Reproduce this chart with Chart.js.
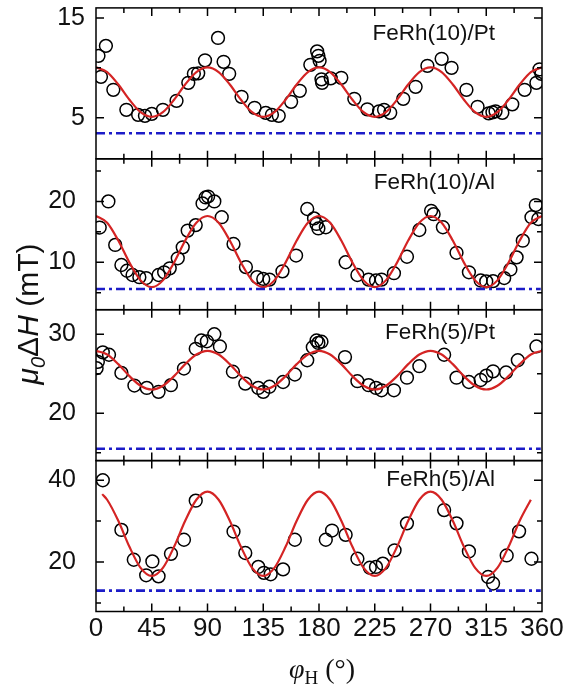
<!DOCTYPE html>
<html lang="en">
<head>
<meta charset="UTF-8">
<title>FeRh linewidth vs field angle</title>
<script src="https://cdn.jsdelivr.net/npm/chart.js"></script>
<style>
  html, body { margin: 0; padding: 0; background: #fff; }
  #wrap { position: relative; width: 567px; height: 690px; }
</style>
</head>
<body>
<div id="wrap"><canvas id="chart" width="567" height="690"></canvas></div>
<script>
// ---- data ----
// FeRh(10)/Pt
const phi1 = [2, 4, 8, 14, 24.5, 34, 39.5, 45, 54, 65, 74.5, 79, 82.5, 88, 98.5, 103, 107.5, 117.5, 128, 137, 142, 147.5, 157.5, 164.5, 173, 178.5, 179.5, 180.5, 182, 182.5, 189.5, 198, 208.5, 219, 228.5, 232.5, 237.5, 248, 258, 267.5, 279, 287, 299, 308, 317, 320, 322.5, 328, 336, 346, 355.5, 358, 359.5];
const dh1 = [11.2, 9.1, 12.2, 7.8, 5.8, 5.3, 5.2, 5.4, 5.8, 6.7, 8.5, 9.4, 9.45, 10.75, 13.0, 10.6, 9.4, 7.1, 6.0, 5.5, 5.3, 5.2, 6.6, 7.7, 10.3, 11.65, 11.2, 10.7, 8.85, 8.5, 8.95, 9.0, 6.9, 5.85, 5.65, 5.8, 5.5, 6.9, 8.1, 10.2, 10.9, 10.0, 7.8, 6.1, 5.45, 5.55, 5.65, 5.5, 6.35, 7.8, 8.5, 9.85, 9.4];
// FeRh(10)/Al
const phi2 = [3, 10, 15.5, 20.5, 25, 29.5, 35, 40.5, 50.5, 55, 59.5, 66, 70, 74, 80.5, 86, 88.5, 90.5, 95.5, 101.5, 111, 121, 130, 135, 140, 150.5, 161.5, 170.5, 176, 178, 179.5, 185.5, 201.5, 211, 220, 226, 230.5, 240.5, 251, 261, 270.5, 272.5, 280, 291, 301, 310.5, 315, 320.5, 329.5, 334.5, 339.5, 344.5, 351.5, 355, 357];
const dh2 = [15.7, 20.0, 12.85, 9.55, 8.6, 7.9, 7.55, 7.4, 7.9, 8.35, 9.0, 10.65, 12.45, 15.2, 16.1, 19.65, 20.65, 20.8, 20.0, 17.4, 13.0, 9.2, 7.55, 7.25, 7.15, 8.5, 11.1, 18.75, 17.2, 16.3, 15.55, 15.75, 10.0, 7.9, 7.15, 7.0, 7.15, 8.2, 10.9, 15.3, 18.45, 17.9, 15.75, 11.55, 8.35, 7.0, 6.85, 6.9, 7.4, 8.8, 10.8, 13.55, 17.4, 19.4, 17.1];
// FeRh(5)/Pt
const phi3 = [0.5, 1.5, 5.5, 10.5, 20.5, 31, 41, 50.5, 60.5, 71, 80.5, 85, 89.5, 95.5, 100, 110.5, 120.5, 131, 135, 140, 151, 160.5, 170.5, 175, 178, 179.5, 182, 201, 211, 220, 226, 230.5, 240.5, 251, 261, 281, 291, 301, 310.5, 315, 320.5, 331, 340.5, 355.5];
const dh3 = [25.7, 26.5, 27.7, 27.4, 25.1, 23.5, 23.2, 22.7, 23.55, 25.65, 28.15, 29.2, 29.1, 30.0, 28.45, 25.25, 23.75, 23.2, 22.7, 23.35, 23.95, 24.9, 26.7, 28.35, 29.2, 28.9, 29.05, 27.1, 24.05, 23.55, 23.2, 22.9, 22.9, 24.5, 25.95, 27.4, 24.5, 23.95, 24.2, 24.75, 25.3, 25.15, 26.7, 28.45];
// FeRh(5)/Al
const phi4 = [5.5, 20.5, 30.5, 40.5, 45.5, 50.5, 60.5, 71, 80.5, 111, 120.5, 131, 135.5, 141, 151, 160.5, 185.5, 190.5, 201.5, 211, 221, 226, 231.5, 241, 251, 281, 291, 301, 316.5, 320.5, 331.5, 341.5, 351.5];
const dh4 = [40.0, 27.85, 20.55, 16.75, 20.15, 16.5, 22.0, 25.45, 35.0, 27.45, 22.2, 18.8, 17.35, 17.0, 18.2, 25.45, 25.45, 27.7, 26.65, 20.8, 18.6, 18.8, 19.6, 22.85, 29.45, 32.7, 29.45, 22.6, 16.35, 14.75, 21.6, 27.5, 20.8];

// fitted curves (red), read every 9 degrees
const fitPhi = [0, 9, 18, 27, 36, 45, 54, 63, 72, 81, 90, 99, 108, 117, 126, 135, 144, 153, 162, 171, 180, 189, 198, 207, 216, 225, 234, 243, 252, 261, 270, 279, 288, 297, 306, 315, 324, 333, 342, 351, 360];
const fit1 = [10.05, 9.58, 8.34, 6.81, 5.57, 5.1, 5.57, 6.81, 8.34, 9.58, 10.05, 9.58, 8.34, 6.81, 5.57, 5.1, 5.57, 6.81, 8.34, 9.58, 10.05, 9.58, 8.34, 6.81, 5.57, 5.1, 5.57, 6.81, 8.34, 9.58, 10.05, 9.58, 8.34, 6.81, 5.57, 5.1, 5.57, 6.81, 8.34, 9.58, 10.05];
const fit2 = [17.6, 16.48, 13.56, 9.94, 7.02, 5.9, 7.02, 9.94, 13.56, 16.48, 17.6, 16.48, 13.56, 9.94, 7.02, 5.9, 7.02, 9.94, 13.56, 16.48, 17.6, 16.48, 13.56, 9.94, 7.02, 5.9, 7.02, 9.94, 13.56, 16.48, 17.6, 16.48, 13.56, 9.94, 7.02, 5.9, 7.02, 9.94, 13.56, 16.48, 17.6];
const fit3 = [27.9, 27.43, 26.21, 24.69, 23.47, 23.0, 23.47, 24.69, 26.21, 27.43, 27.9, 27.43, 26.21, 24.69, 23.47, 23.0, 23.47, 24.69, 26.21, 27.43, 27.9, 27.43, 26.21, 24.69, 23.47, 23.0, 23.47, 24.69, 26.21, 27.43, 27.9, 27.43, 26.21, 24.69, 23.47, 23.0, 23.47, 24.69, 26.21, 27.43, 27.9];
const fitPhi4 = [5, 9, 18, 27, 36, 45, 54, 63, 72, 81, 90, 99, 108, 117, 126, 135, 144, 153, 162, 171, 180, 189, 198, 207, 216, 225, 234, 243, 252, 261, 270, 279, 288, 297, 306, 315, 324, 333, 342, 351];
const fit4 = [36.6, 35.23, 30.08, 23.72, 18.57, 16.6, 18.57, 23.72, 30.08, 35.23, 37.2, 35.23, 30.08, 23.72, 18.57, 16.6, 18.57, 23.72, 30.08, 35.23, 37.2, 35.23, 30.08, 23.72, 18.57, 16.6, 18.57, 23.72, 30.08, 35.23, 37.2, 35.23, 30.08, 23.72, 18.57, 16.6, 18.57, 23.72, 30.08, 35.23];

// blue dash-dot levels
const basePhi = [0, 359];
const baseLevel = [3.45, 5.6, 15.5, 13.0];

// axes
const xTicks = [0, 45, 90, 135, 180, 225, 270, 315, 360];
const panelNames = ['FeRh(10)/Pt', 'FeRh(10)/Al', 'FeRh(5)/Pt', 'FeRh(5)/Al'];
const yMin = [0.9, 2.2, 14.0, 7.9];
const yMax = [16.0, 27.0, 33.1, 44.8];
const yMajor = [[5, 15], [10, 20], [20, 30], [20, 40]];
const yMinor = [[10], [5, 15, 25], [15, 25], [10, 30]];

const panelIds = ['y1', 'y2', 'y3', 'y4'];
const labelDy = [26, 24, 23, 19];
const labelPad = [11, 20, 20, 20];

const pts = [[phi1, dh1], [phi2, dh2], [phi3, dh3], [phi4, dh4]];
const fits = [[fitPhi, fit1], [fitPhi, fit2], [fitPhi, fit3], [fitPhi4, fit4]];

const SANS = '"Liberation Sans", Arial, sans-serif';
const SERIF = '"Liberation Serif", "Times New Roman", serif';

function xy(xs, ys) {
  return xs.map((x, i) => ({ x: x, y: ys[i] }));
}

// build datasets
const datasets = [];
panelIds.forEach((id, i) => {
  datasets.push({
    label: 'base' + i,
    data: xy(basePhi, [baseLevel[i], baseLevel[i]]),
    yAxisID: id,
    borderColor: '#1c1cc8',
    borderWidth: 2.6,
    borderDash: [9, 4, 3, 4],
    pointRadius: 0,
    fill: false
  });
  datasets.push({
    label: 'fit' + i,
    data: xy(fits[i][0], fits[i][1]),
    yAxisID: id,
    borderColor: '#d42424',
    borderWidth: 2.2,
    pointRadius: 0,
    cubicInterpolationMode: 'monotone',
    fill: false
  });
  datasets.push({
    label: panelNames[i],
    data: xy(pts[i][0], pts[i][1]),
    yAxisID: id,
    showLine: false,
    pointRadius: 6.4,
    pointBorderWidth: 1.5,
    pointBorderColor: '#000',
    pointBackgroundColor: 'rgba(0,0,0,0)'
  });
});

// stacked y axes, one per panel (heavier weight goes on top)
const scales = {
  x: {
    type: 'linear',
    min: 0,
    max: 360,
    grid: { display: false, drawTicks: false },
    border: { display: false },
    afterBuildTicks: s => { s.ticks = xTicks.map(v => ({ value: v })); },
    afterFit: s => { s.height = 690 - 611.5; s.paddingLeft = 0; s.paddingRight = 0; },
    ticks: { font: { family: SANS, size: 26 }, color: '#111', padding: 2, maxRotation: 0 }
  }
};
panelIds.forEach((id, i) => {
  scales[id] = {
    type: 'linear',
    position: 'left',
    stack: 'panels',
    stackWeight: 1,
    weight: 4 - i,
    min: yMin[i],
    max: yMax[i],
    grid: { display: false, drawTicks: false },
    border: { display: false },
    afterBuildTicks: s => { s.ticks = yMajor[i].map(v => ({ value: v })); },
    afterFit: s => { s.width = 96; s.paddingTop = 0; s.paddingBottom = 0; },
    ticks: { font: { family: SANS, size: 25 }, color: '#111', padding: labelPad[i] }
  };
});

// draw text made of pieces (italic / subscript)
function drawPieces(ctx, pieces, cx, cy, size, family) {
  const fontOf = p => (p.italic ? 'italic ' : '') + Math.round(p.sub ? size * 0.68 : size) + 'px ' + family;
  let total = 0;
  pieces.forEach(p => { ctx.font = fontOf(p); p.w = ctx.measureText(p.t).width; total += p.w; });
  let x = cx - total / 2;
  ctx.textBaseline = 'middle';
  ctx.textAlign = 'left';
  pieces.forEach(p => {
    ctx.font = fontOf(p);
    ctx.fillText(p.t, x, cy + (p.sub ? size * 0.3 : 0));
    x += p.w;
  });
}

// panel frames, inward ticks, panel names and axis titles
const framePlugin = {
  id: 'frames',
  afterDraw(chart) {
    const ctx = chart.ctx;
    const xs = chart.scales.x;
    const L = chart.chartArea.left, R = chart.chartArea.right;
    ctx.save();
    ctx.strokeStyle = '#000';
    ctx.lineWidth = 1.5;
    panelIds.forEach((id, i) => {
      const ys = chart.scales[id];
      const T = ys.top, B = ys.bottom;
      ctx.strokeRect(L, T, R - L, B - T);
      ctx.beginPath();
      // x ticks at top and bottom of every panel
      for (let k = 0; k < xTicks.length - 1; k++) {
        const major = xs.getPixelForValue(xTicks[k]);
        const minor = xs.getPixelForValue((xTicks[k] + xTicks[k + 1]) / 2);
        if (k > 0) {
          ctx.moveTo(major, B); ctx.lineTo(major, B - 8);
          ctx.moveTo(major, T); ctx.lineTo(major, T + 8);
        }
        ctx.moveTo(minor, B); ctx.lineTo(minor, B - 5);
        ctx.moveTo(minor, T); ctx.lineTo(minor, T + 5);
      }
      // y ticks left and right
      yMajor[i].forEach(v => {
        const y = ys.getPixelForValue(v);
        ctx.moveTo(L, y); ctx.lineTo(L + 8, y);
        ctx.moveTo(R, y); ctx.lineTo(R - 8, y);
      });
      yMinor[i].forEach(v => {
        const y = ys.getPixelForValue(v);
        ctx.moveTo(L, y); ctx.lineTo(L + 5, y);
        ctx.moveTo(R, y); ctx.lineTo(R - 5, y);
      });
      ctx.stroke();

      // panel name
      ctx.fillStyle = '#111';
      ctx.font = '22.5px ' + SANS;
      ctx.textAlign = 'right';
      ctx.textBaseline = 'middle';
      ctx.fillText(panelNames[i], 495, T + labelDy[i]);
    });

    // y title, rotated
    ctx.fillStyle = '#111';
    ctx.save();
    ctx.translate(30, 314);
    ctx.rotate(-Math.PI / 2);
    drawPieces(ctx, [
      { t: 'μ', italic: true },
      { t: '0', italic: true, sub: true },
      { t: 'Δ' },
      { t: 'H', italic: true },
      { t: ' (mT)' }
    ], 0, 0, 30, SANS);
    ctx.restore();

    // x title
    drawPieces(ctx, [
      { t: 'φ', italic: true },
      { t: 'H', sub: true },
      { t: ' (°)' }
    ], (L + R) / 2 + 3, 671, 28, SERIF);
    ctx.restore();
  }
};

new Chart(document.getElementById('chart').getContext('2d'), {
  type: 'line',
  data: { datasets: datasets },
  options: {
    responsive: false,
    animation: false,
    devicePixelRatio: 1,
    parsing: true,
    layout: { padding: { top: 5, right: 25, left: 0, bottom: 0 } },
    plugins: { legend: { display: false }, tooltip: { enabled: false } },
    scales: scales
  },
  plugins: [framePlugin]
});
</script>
</body>
</html>
